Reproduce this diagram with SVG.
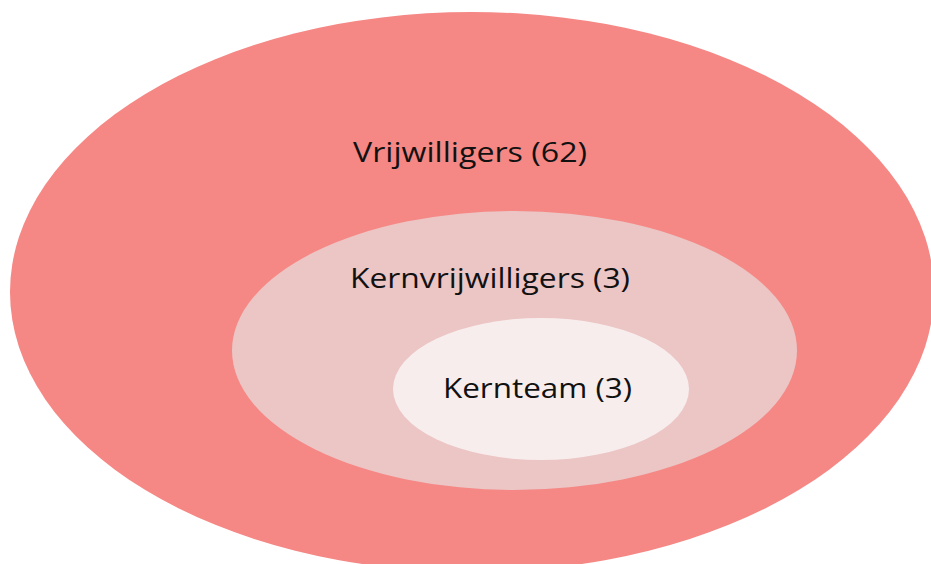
<svg xmlns="http://www.w3.org/2000/svg" width="931" height="564" viewBox="0 0 931 564">
<style>
text{font-family:"Open Sans","Liberation Sans",sans-serif;font-size:28px;fill:#111;}
</style>
<rect width="931" height="564" fill="#ffffff"/>
<g id="vrijwilligers">
<ellipse cx="472" cy="292" rx="462" ry="280" fill="#F58784"/>
<text x="353" y="162" textLength="234" lengthAdjust="spacingAndGlyphs">Vrijwilligers (62)</text>
</g>
<g id="kernvrijwilligers">
<ellipse cx="514.5" cy="350.5" rx="282.5" ry="139.5" fill="#ECC5C5"/>
<text x="350" y="288" textLength="280" lengthAdjust="spacingAndGlyphs">Kernvrijwilligers (3)</text>
</g>
<g id="kernteam">
<ellipse cx="541" cy="389" rx="148" ry="71" fill="#F8EDED"/>
<text x="443" y="398" textLength="189" lengthAdjust="spacingAndGlyphs">Kernteam (3)</text>
</g>
<g id="connectors"/>
</svg>
